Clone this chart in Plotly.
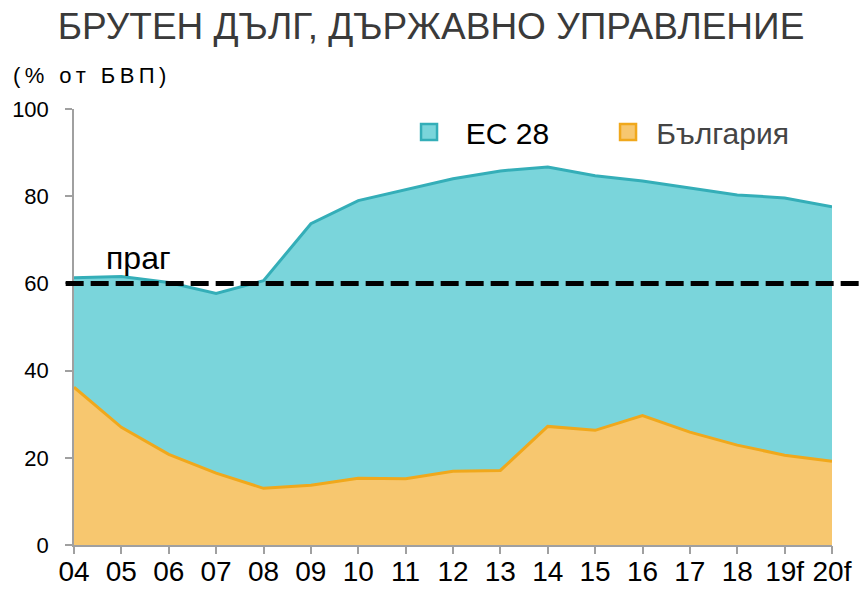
import plotly.graph_objects as go

years = ["04", "05", "06", "07", "08", "09", "10", "11", "12", "13", "14", "15", "16", "17", "18", "19f", "20f"]
eu28 = [61.3, 61.6, 60.2, 57.7, 60.6, 73.7, 79.0, 81.5, 84.0, 85.8, 86.7, 84.7, 83.5, 81.9, 80.3, 79.6, 77.6]
bulgaria = [36.2, 27.0, 20.8, 16.5, 13.0, 13.7, 15.3, 15.2, 16.9, 17.1, 27.2, 26.3, 29.7, 25.9, 22.9, 20.6, 19.2]
threshold = 60
y_ticks = [0, 20, 40, 60, 80, 100]

EU_FILL = "#7AD5DB"
EU_LINE = "#34AEB8"
BG_FILL = "#F7C76F"
BG_LINE = "#F0A81C"
AXIS = "#A0A0A0"
FONT = "Liberation Sans, Arial, sans-serif"
NARROW = "Liberation Sans Narrow, Arial Narrow, Liberation Sans, Arial, sans-serif"

fig = go.Figure()
fig.add_trace(go.Scatter(x=years, y=eu28, mode="lines", fill="tozeroy",
                         fillcolor=EU_FILL, line=dict(color=EU_LINE, width=3),
                         showlegend=False, hoverinfo="skip"))
fig.add_trace(go.Scatter(x=years, y=bulgaria, mode="lines", fill="tozeroy",
                         fillcolor=BG_FILL, line=dict(color=BG_LINE, width=3),
                         showlegend=False, hoverinfo="skip"))
# legend entries (also carry the tick-mark axis x2)
fig.add_trace(go.Scatter(x=[None], y=[None], xaxis="x2", mode="markers", name="\u00a0\u00a0ЕС 28",
                         marker=dict(symbol="square", size=16, color=EU_FILL,
                                     line=dict(color=EU_LINE, width=2.5))))
fig.add_trace(go.Scatter(x=[None], y=[None], xaxis="x2", mode="markers",
                         name="<span style='color:#444444'>\u00a0България</span>",
                         marker=dict(symbol="square", size=16, color=BG_FILL,
                                     line=dict(color=BG_LINE, width=2.5))))

fig.add_shape(type="line", xref="paper", yref="y", x0=-0.011, x1=1.06, y0=threshold, y1=threshold,
              line=dict(color="black", width=5, dash="18px,7px"), layer="above")
fig.add_annotation(x=1.36, y=threshold, xref="x", yref="y", text="праг", showarrow=False,
                   yanchor="bottom", yshift=5, font=dict(size=32, color="black", family=FONT))

t = "\u2009"
fig.add_annotation(x=-0.083, y=1.077, xref="paper", yref="paper",
                   text=t.join(list("(%")) + t + " " + t + t.join(list("от")) + t + " " + t + t.join(list("БВП)")),
                   showarrow=False, xanchor="left", yanchor="middle",
                   font=dict(size=22, color="black", family=FONT))

fig.update_layout(
    width=862, height=589,
    margin=dict(l=74, r=30, t=109, b=44, autoexpand=False),
    paper_bgcolor="white", plot_bgcolor="white",
    font=dict(family=FONT, size=22, color="black"),
    title=dict(text="БРУТЕН ДЪЛГ, ДЪРЖАВНО УПРАВЛЕНИЕ", x=0.5, xanchor="center",
               y=1 - 26 / 589, yanchor="middle", font=dict(size=37, color="#3a3a3a", family=FONT)),
    showlegend=True,
    legend=dict(orientation="h", x=0.442, xanchor="left", y=(545 - 131) / 437,
                yanchor="middle", font=dict(size=30, color="black"), entrywidth=154,
                bgcolor="rgba(0,0,0,0)", itemsizing="trace"),
    xaxis=dict(type="category", categoryorder="array", categoryarray=years,
               range=[0, len(years) - 1], showgrid=False, zeroline=False, automargin=False,
               showline=True, linecolor=AXIS, linewidth=1.5,
               ticks="", tickangle=0,
               tickfont=dict(size=28, color="black", family=NARROW), ticklabelstandoff=1),
    xaxis2=dict(type="category", categoryorder="array", categoryarray=years, overlaying="x",
                matches="x", range=[0, len(years) - 1], side="bottom",
                showgrid=False, zeroline=False, automargin=False, showline=False,
                showticklabels=False, ticks="outside", ticklen=8, tickcolor=AXIS, tickwidth=1.5),
    yaxis=dict(range=[0, 100], tickvals=y_ticks, showgrid=False, zeroline=False, automargin=False,
               showline=True, linecolor=AXIS, linewidth=1.5,
               ticks="outside", ticklen=7, tickcolor=AXIS, tickwidth=1.5,
               tickfont=dict(size=22, color="black"), ticklabelstandoff=12),
)

fig.write_html("out.html", config={"displayModeBar": False},
               post_script="document.body.style.margin='0';document.body.style.overflow='hidden';")
